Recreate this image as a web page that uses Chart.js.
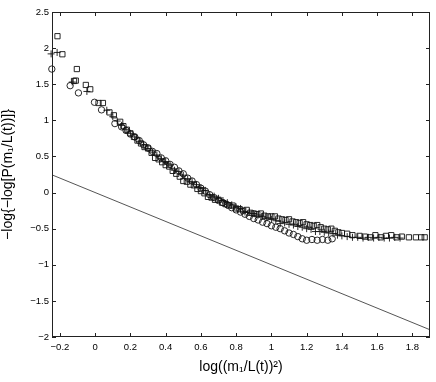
<!DOCTYPE html>
<html>
<head>
<meta charset="utf-8">
<script src="https://cdn.jsdelivr.net/npm/chart.js@4"></script>
<style>
  html, body { margin: 0; padding: 0; background: #fff; }
  #wrap { width: 436px; height: 382px; }
</style>
</head>
<body>
<div id="wrap"><canvas id="myChart" width="436" height="382"></canvas></div>
<script>
// circles
const circleX = [-0.246, -0.142, -0.095, -0.004, 0.036, 0.112, 0.15, 0.175, 0.20, 0.225, 0.25, 0.275, 0.30, 0.325, 0.35, 0.375, 0.40, 0.425, 0.45, 0.475, 0.50, 0.525, 0.55, 0.575, 0.60, 0.625, 0.65, 0.675, 0.70, 0.725, 0.75, 0.775, 0.80, 0.825, 0.85, 0.875, 0.90, 0.925, 0.95, 0.975, 1.00, 1.025, 1.05, 1.075, 1.10, 1.125, 1.15, 1.175, 1.20, 1.23, 1.26, 1.29, 1.32, 1.345];
const circleY = [1.71, 1.48, 1.38, 1.25, 1.145, 0.955, 0.91, 0.86, 0.81, 0.77, 0.72, 0.66, 0.62, 0.57, 0.54, 0.48, 0.44, 0.39, 0.35, 0.30, 0.26, 0.20, 0.16, 0.11, 0.06, 0.02, -0.03, -0.07, -0.11, -0.14, -0.17, -0.21, -0.24, -0.27, -0.30, -0.33, -0.36, -0.38, -0.41, -0.43, -0.46, -0.48, -0.50, -0.53, -0.56, -0.58, -0.61, -0.64, -0.66, -0.65, -0.66, -0.65, -0.66, -0.64];

// plus signs
const plusX = [-0.25, -0.216, -0.13, -0.047, 0.066, 0.10, 0.125, 0.15, 0.175, 0.20, 0.225, 0.25, 0.275, 0.30, 0.325, 0.35, 0.375, 0.40, 0.425, 0.45, 0.475, 0.50, 0.525, 0.55, 0.575, 0.60, 0.625, 0.65, 0.675, 0.70, 0.725, 0.75, 0.775, 0.80, 0.825, 0.85, 0.875, 0.90, 0.925, 0.95, 0.975, 1.00, 1.025, 1.05, 1.075, 1.10, 1.125, 1.15, 1.175, 1.20, 1.225, 1.25, 1.275, 1.30, 1.325, 1.35, 1.375, 1.40, 1.43, 1.46, 1.49, 1.52, 1.55, 1.58, 1.61, 1.64, 1.67, 1.70, 1.73];
const plusY = [1.92, 1.94, 1.53, 1.40, 1.14, 1.05, 0.99, 0.93, 0.87, 0.82, 0.77, 0.71, 0.66, 0.61, 0.56, 0.52, 0.47, 0.43, 0.38, 0.31, 0.29, 0.24, 0.19, 0.15, 0.11, 0.07, 0.03, -0.03, -0.05, -0.08, -0.11, -0.14, -0.17, -0.20, -0.22, -0.27, -0.27, -0.29, -0.31, -0.33, -0.35, -0.37, -0.39, -0.43, -0.42, -0.44, -0.45, -0.47, -0.48, -0.50, -0.51, -0.54, -0.54, -0.55, -0.56, -0.57, -0.59, -0.60, -0.61, -0.62, -0.62, -0.63, -0.62, -0.63, -0.62, -0.63, -0.63, -0.62, -0.63];

// squares
const squareX = [-0.214, -0.186, -0.104, -0.12, -0.11, -0.053, -0.028, 0.019, 0.044, 0.081, 0.106, 0.142, 0.16, 0.18, 0.20, 0.22, 0.24, 0.26, 0.28, 0.30, 0.32, 0.34, 0.36, 0.38, 0.40, 0.42, 0.44, 0.46, 0.48, 0.50, 0.52, 0.54, 0.56, 0.58, 0.60, 0.62, 0.64, 0.66, 0.68, 0.70, 0.72, 0.74, 0.76, 0.78, 0.80, 0.82, 0.84, 0.86, 0.88, 0.90, 0.92, 0.94, 0.96, 0.98, 1.00, 1.02, 1.04, 1.06, 1.08, 1.10, 1.12, 1.14, 1.16, 1.18, 1.20, 1.22, 1.24, 1.26, 1.28, 1.30, 1.32, 1.34, 1.36, 1.38, 1.40, 1.43, 1.46, 1.50, 1.53, 1.56, 1.59, 1.62, 1.65, 1.68, 1.71, 1.74, 1.78, 1.82, 1.85, 1.87];
const squareY = [2.165, 1.915, 1.71, 1.545, 1.55, 1.49, 1.43, 1.24, 1.24, 1.11, 1.07, 0.98, 0.92, 0.87, 0.82, 0.77, 0.72, 0.68, 0.63, 0.61, 0.55, 0.48, 0.46, 0.42, 0.38, 0.36, 0.30, 0.26, 0.22, 0.16, 0.15, 0.11, 0.10, 0.05, 0.02, -0.01, -0.06, -0.07, -0.10, -0.10, -0.14, -0.16, -0.18, -0.18, -0.22, -0.23, -0.25, -0.24, -0.28, -0.29, -0.30, -0.29, -0.32, -0.33, -0.33, -0.33, -0.36, -0.37, -0.38, -0.37, -0.40, -0.41, -0.42, -0.41, -0.44, -0.45, -0.46, -0.45, -0.48, -0.50, -0.51, -0.50, -0.53, -0.55, -0.56, -0.57, -0.59, -0.60, -0.61, -0.62, -0.59, -0.62, -0.60, -0.59, -0.62, -0.61, -0.62, -0.62, -0.62, -0.62];

// reference line
const lineX = [-0.245, 1.9];
const lineY = [0.245, -1.9];

const xTicks = [-0.2, 0, 0.2, 0.4, 0.6, 0.8, 1, 1.2, 1.4, 1.6, 1.8];
const yTicks = [-2, -1.5, -1, -0.5, 0, 0.5, 1, 1.5, 2, 2.5];

const pts = (xs, ys) => xs.map((x, i) => ({ x: x, y: ys[i] }));
const fmt = v => (v < 0 ? '\u2212' + Math.abs(v) : String(v));

// box round the plot + ticks pointing inwards on all four sides
const boxPlugin = {
  id: 'box',
  afterDraw(chart) {
    const { ctx, chartArea: a, scales } = chart;
    const len = 4;
    ctx.save();
    ctx.strokeStyle = '#222';
    ctx.lineWidth = 1;
    ctx.strokeRect(a.left + 0.5, a.top + 0.5, a.right - a.left - 1, a.bottom - a.top - 1);
    ctx.beginPath();
    xTicks.forEach(v => {
      const px = Math.round(scales.x.getPixelForValue(v)) + 0.5;
      ctx.moveTo(px, a.bottom); ctx.lineTo(px, a.bottom - len);
      ctx.moveTo(px, a.top); ctx.lineTo(px, a.top + len);
    });
    yTicks.forEach(v => {
      const py = Math.round(scales.y.getPixelForValue(v)) + 0.5;
      ctx.moveTo(a.left, py); ctx.lineTo(a.left + len, py);
      ctx.moveTo(a.right, py); ctx.lineTo(a.right - len, py);
    });
    ctx.stroke();
    ctx.restore();
  }
};

const markBase = {
  showLine: false,
  backgroundColor: 'rgba(0,0,0,0)',
  borderColor: '#111',
  pointBorderWidth: 0.9,
  clip: false
};

new Chart(document.getElementById('myChart').getContext('2d'), {
  type: 'scatter',
  data: {
    datasets: [
      {
        label: 'line',
        data: pts(lineX, lineY),
        showLine: true,
        pointRadius: 0,
        borderColor: '#555',
        borderWidth: 1
      },
      Object.assign({ label: 'circles', data: pts(circleX, circleY), pointStyle: 'circle', pointRadius: 3.2 }, markBase),
      Object.assign({ label: 'plus', data: pts(plusX, plusY), pointStyle: 'cross', pointRadius: 3.5 }, markBase),
      Object.assign({ label: 'squares', data: pts(squareX, squareY), pointStyle: 'rect', pointRadius: 3.7 }, markBase)
    ]
  },
  plugins: [boxPlugin],
  options: {
    responsive: false,
    animation: false,
    events: [],
    layout: { padding: { top: 12, right: 6, left: 0, bottom: 0 } },
    plugins: { legend: { display: false }, tooltip: { enabled: false } },
    scales: {
      x: {
        type: 'linear',
        min: -0.245,
        max: 1.9,
        afterBuildTicks: s => { s.ticks = xTicks.map(v => ({ value: v })); },
        afterFit: s => { s.height = 45; },
        grid: { display: false, drawTicks: false },
        border: { display: false },
        ticks: {
          padding: 5,
          color: '#000',
          font: { family: 'Liberation Sans', size: 9.5 },
          maxRotation: 0,
          callback: v => fmt(v)
        },
        title: {
          display: true,
          text: 'log((m\u2081/L(t))\u00B2)',
          color: '#000',
          font: { family: 'Liberation Sans', size: 14 },
          padding: { top: 0, bottom: 6 }
        }
      },
      y: {
        type: 'linear',
        min: -2,
        max: 2.5,
        afterBuildTicks: s => { s.ticks = yTicks.map(v => ({ value: v })); },
        afterFit: s => { s.width = 52; },
        grid: { display: false, drawTicks: false },
        border: { display: false },
        ticks: {
          padding: 3,
          color: '#000',
          font: { family: 'Liberation Sans', size: 9.5 },
          callback: v => fmt(v)
        },
        title: {
          display: true,
          text: '\u2212log{\u2212log[P(m\u2081/L(t))]}',
          color: '#000',
          font: { family: 'Liberation Sans', size: 14 },
          padding: { top: 0, bottom: 0 }
        }
      }
    }
  }
});
</script>
</body>
</html>
